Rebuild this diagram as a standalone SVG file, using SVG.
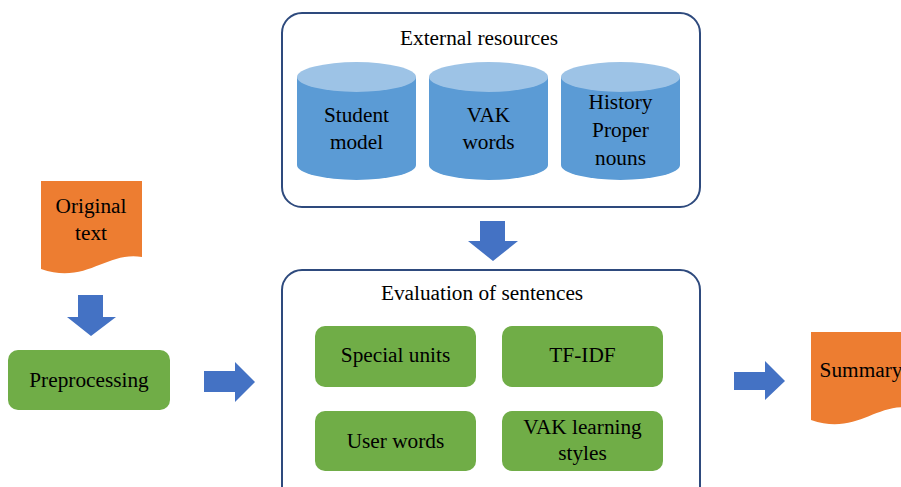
<svg xmlns="http://www.w3.org/2000/svg" width="901" height="487" viewBox="0 0 901 487">
<defs>
<style>
.container{fill:#fff;stroke:#2E4A7D;stroke-width:2}
.green{fill:#70AD47}
.doc{fill:#ED7D31}
.arrow{fill:#4472C4}
.cylbody{fill:#5B9BD5}
.cyltop{fill:#9DC3E6}
</style>
<path id="cyl" d="M0,0 V88 A59.5,15 0 0 0 119,88 V0 Z"/>
</defs>
<rect width="901" height="487" fill="#fff"/>
<g font-family="Liberation Serif" font-size="21.3" text-anchor="middle" fill="#000">
<g id="external-resources">
<rect class="container" x="282" y="13" width="418" height="194" rx="20"/>
<text x="479" y="45">External resources</text>
</g>
<g id="student-model">
<use href="#cyl" class="cylbody" x="297" y="77"/>
<ellipse class="cyltop" cx="356.5" cy="77" rx="59.5" ry="15"/>
<text x="356.5" y="122">Student</text>
<text x="356.5" y="149">model</text>
</g>
<g id="vak-words">
<use href="#cyl" class="cylbody" x="429" y="77"/>
<ellipse class="cyltop" cx="488.5" cy="77" rx="59.5" ry="15"/>
<text x="488.5" y="122">VAK</text>
<text x="488.5" y="149">words</text>
</g>
<g id="history-proper-nouns">
<use href="#cyl" class="cylbody" x="561" y="77"/>
<ellipse class="cyltop" cx="620.5" cy="77" rx="59.5" ry="15"/>
<text x="620.5" y="109">History</text>
<text x="620.5" y="137">Proper</text>
<text x="620.5" y="165">nouns</text>
</g>

<g id="evaluation-of-sentences">
<rect class="container" x="282" y="270" width="418" height="240" rx="20"/>
<text x="482" y="300">Evaluation of sentences</text>
</g>
<g id="special-units">
<rect class="green" x="315" y="326" width="161" height="61" rx="10"/>
<text x="395.5" y="362">Special units</text>
</g>
<g id="tf-idf">
<rect class="green" x="502" y="326" width="161" height="61" rx="10"/>
<text x="582.5" y="362">TF-IDF</text>
</g>
<g id="user-words">
<rect class="green" x="315" y="411" width="161" height="60" rx="10"/>
<text x="395.5" y="448">User words</text>
</g>
<g id="vak-learning-styles">
<rect class="green" x="502" y="411" width="161" height="60" rx="10"/>
<text x="582.5" y="434">VAK learning</text>
<text x="582.5" y="460">styles</text>
</g>

<g id="original-text">
<path class="doc" d="M41,181 H142 V257 C106,251 86,285 41,269 Z"/>
<text x="91" y="213">Original</text>
<text x="91" y="240">text</text>
</g>
<g id="preprocessing">
<rect class="green" x="8" y="350" width="162" height="60" rx="10"/>
<text x="89" y="387">Preprocessing</text>
</g>
<g id="summary">
<path class="doc" d="M811,332 H912 V408 C876,402 856,436 811,420 Z"/>
<text x="861" y="377">Summary</text>
</g>
</g>
<g id="connectors">
<polygon class="arrow" points="480,221 505,221 505,241 518,241 493,261 468,241 480,241"/>
<polygon class="arrow" points="78,295 103,295 103,317 116,317 91,336 67,317 78,317"/>
<polygon class="arrow" points="204,371 235,371 235,362 255,382 235,402 235,392 204,392"/>
<polygon class="arrow" points="734,372 765,372 765,361 785,381 765,400 765,390 734,390"/>
</g>
</svg>
